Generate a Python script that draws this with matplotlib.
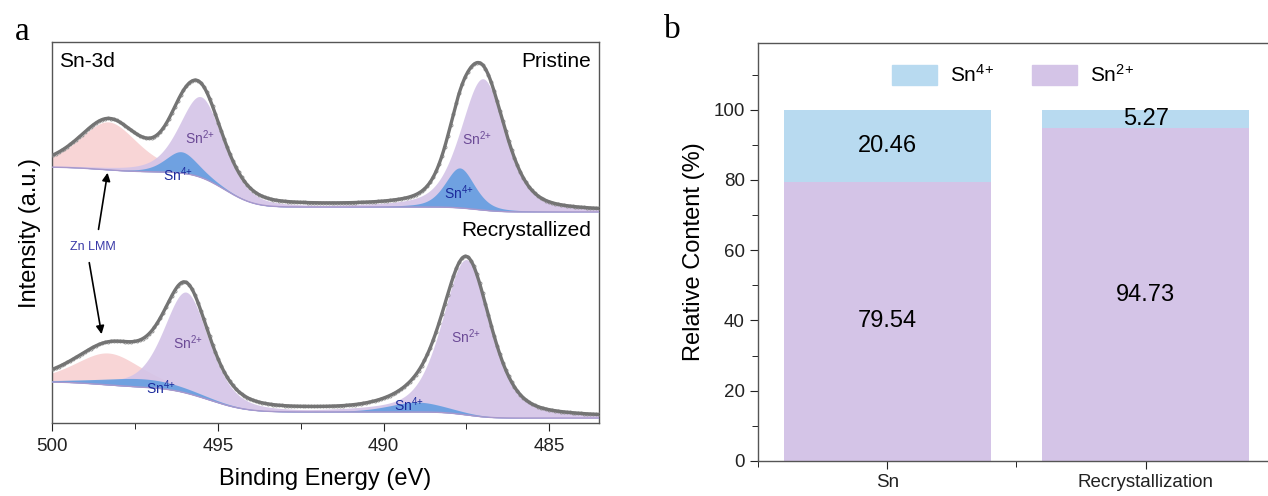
import numpy as np
import matplotlib
matplotlib.use('Agg')
import matplotlib.pyplot as plt
from matplotlib.patches import Patch
from matplotlib.ticker import MultipleLocator
from math import erf

plt.rcParams['font.family'] = ['Liberation Sans', 'DejaVu Sans']
plt.rcParams['mathtext.fontset'] = 'custom'
plt.rcParams['mathtext.rm'] = 'Liberation Sans'
plt.rcParams['mathtext.it'] = 'Liberation Sans:italic'

# ---- panel a: fitted Sn-3d components (center eV, height, fwhm eV) ----
# pristine
pri_offset = 55.4
pri_steps = [(487.2, 1.3, 0.8), (494.8, 9.2, 1.0), (498.5, 1.3, 1.2)]
pri_zn = (498.3, 12.6, 2.1)
pri_sn2 = [(495.5, 21.2, 1.55), (487.0, 34.5, 1.6)]
pri_sn4 = [(496.1, 5.6, 1.15), (487.7, 10.5, 1.05)]

# recrystallized
rec_offset = 1.3
rec_steps = [(487.5, 1.6, 0.8), (495.3, 6.5, 1.3), (498.5, 1.4, 1.2)]
rec_zn = (498.3, 8.4, 2.4)
rec_sn2 = [(495.95, 26.5, 1.6), (487.5, 40.8, 1.72)]
rec_sn4 = [(497.3, 2.2, 3.0), (489.0, 2.6, 2.0)]

# ---- panel b: relative content (%) ----
samples = ['Sn', 'Recrystallization']
sn2_pct = [79.54, 94.73]
sn4_pct = [20.46, 5.27]

c_pink = '#f8d5d6'
c_purple = '#d4c4e7'
c_blue = '#5d9be0'
c_env = '#747474'


def pv(x, c, h, fwhm, eta=0.45):
    s = fwhm / 2.3548
    g = np.exp(-0.5 * ((x - c) / s) ** 2)
    l = 1.0 / (1.0 + ((x - c) / (fwhm / 2)) ** 2)
    return h * ((1 - eta) * g + eta * l)


def background(x, offset, steps):
    b = np.full_like(x, offset)
    for c, s, w in steps:
        b += s * 0.5 * (1 + np.array([erf(v) for v in (x - c) / w]))
    return b


def draw_spectrum(ax, x, offset, steps, zn, sn2, sn4):
    bg = background(x, offset, steps)
    total = bg.copy()
    yz = pv(x, *zn)
    ax.fill_between(x, bg, bg + yz, color=c_pink, lw=0, zorder=1)
    total += yz
    for p in sn2:
        y = pv(x, *p)
        ax.fill_between(x, bg, bg + y, color=c_purple, alpha=0.9, lw=0, zorder=2)
        total += y
    for p in sn4:
        y = pv(x, *p)
        ax.fill_between(x, bg, bg + y, color=c_blue, alpha=0.85, lw=0, zorder=3)
        total += y
    ax.plot(x, bg, color='#a898cc', lw=1.0, zorder=3)
    ax.plot(x[::6], total[::6], 'o', ms=2.2, mfc='none', mec='#888888', mew=0.6, zorder=4)
    ax.plot(x, total, color=c_env, lw=2.4, zorder=5)


fig = plt.figure(figsize=(12.68, 4.96), dpi=100)

ax = fig.add_axes([0.041, 0.1472, 0.4314, 0.7681])
x = np.linspace(500.5, 483.0, 1200)
draw_spectrum(ax, x, pri_offset, pri_steps, pri_zn, pri_sn2, pri_sn4)
draw_spectrum(ax, x, rec_offset, rec_steps, rec_zn, rec_sn2, rec_sn4)

ax.set_xlim(500, 483.5)
ax.set_ylim(0, 100)
ax.set_yticks([])
ax.xaxis.set_major_locator(MultipleLocator(5))
ax.xaxis.set_minor_locator(MultipleLocator(2.5))
ax.tick_params(axis='x', which='major', length=6, pad=5, labelsize=13.5, colors='#222222')
ax.tick_params(axis='x', which='minor', length=4)
for sp in ax.spines.values():
    sp.set_color('#555555')
    sp.set_linewidth(1.0)
ax.set_xlabel('Binding Energy (eV)', fontsize=17, labelpad=9)
ax.set_ylabel('Intensity (a.u.)', fontsize=17, labelpad=8)

ax.text(0.012, 0.975, 'Sn-3d', transform=ax.transAxes, fontsize=15, va='top', ha='left')
ax.text(0.985, 0.975, 'Pristine', transform=ax.transAxes, fontsize=15, va='top', ha='right')
ax.text(0.985, 0.53, 'Recrystallized', transform=ax.transAxes, fontsize=15, va='top', ha='right')

lab2 = dict(color='#6b4a96', fontsize=10, ha='center', va='center', zorder=6)
lab4 = dict(color='#1b2a9c', fontsize=10, ha='center', va='center', zorder=6)
ax.text(495.54, 74.8, 'Sn$^{2\\!+}$', **lab2)
ax.text(496.2, 65.1, 'Sn$^{4\\!+}$', **lab4)
ax.text(487.17, 74.5, 'Sn$^{2\\!+}$', **lab2)
ax.text(487.71, 60.4, 'Sn$^{4\\!+}$', **lab4)
ax.text(495.9, 21.0, 'Sn$^{2\\!+}$', **lab2)
ax.text(496.72, 9.2, 'Sn$^{4\\!+}$', **lab4)
ax.text(487.5, 22.6, 'Sn$^{2\\!+}$', **lab2)
ax.text(489.22, 4.7, 'Sn$^{4\\!+}$', **lab4)

ax.text(498.77, 46.2, 'Zn LMM', color='#3a3aa8', fontsize=9, ha='center', va='center', zorder=6)
arr = dict(arrowstyle='-|>', color='k', lw=1.2, mutation_scale=12)
ax.annotate('', xy=(498.31, 66.4), xytext=(498.61, 50.1), arrowprops=arr, zorder=6)
ax.annotate('', xy=(498.49, 22.6), xytext=(498.89, 42.8), arrowprops=arr, zorder=6)

# ---- panel b ----
bx = fig.add_axes([0.5978, 0.0706, 0.4077, 0.8427])
pos = np.arange(1, len(samples) + 1)
b2 = bx.bar(pos, sn2_pct, width=0.8, color=c_purple)
b4 = bx.bar(pos, sn4_pct, width=0.8, bottom=sn2_pct, color='#b8daf0')
bx.bar_label(b2, labels=['%.2f' % v for v in sn2_pct], label_type='center', fontsize=17)
bx.bar_label(b4, labels=['%.2f' % v for v in sn4_pct], label_type='center', fontsize=17)

bx.set_xlim(0.5, 2.5)
bx.set_ylim(0, 119)
bx.set_xticks(pos)
bx.set_xticklabels(samples)
bx.xaxis.set_minor_locator(MultipleLocator(0.5))
bx.yaxis.set_major_locator(MultipleLocator(20))
bx.yaxis.set_minor_locator(MultipleLocator(10))
bx.set_yticks(np.arange(0, 101, 20))
bx.tick_params(which='major', length=6, labelsize=13.5, colors='#222222')
bx.tick_params(which='minor', length=4)
bx.spines['right'].set_visible(False)
for sp in ['left', 'top', 'bottom']:
    bx.spines[sp].set_color('#555555')
    bx.spines[sp].set_linewidth(1.0)
bx.set_ylabel('Relative Content (%)', fontsize=17, labelpad=6)

handles = [Patch(color='#b8daf0', label='Sn$^{4\\!+}$'), Patch(color=c_purple, label='Sn$^{2\\!+}$')]
bx.legend(handles=handles, loc='center', bbox_to_anchor=(0.493, 0.923), ncol=2, frameon=False,
          fontsize=15, handlelength=2.2, handleheight=1.1, handletextpad=0.6, columnspacing=1.8)

fig.text(0.012, 0.935, 'a', fontsize=24, family='Liberation Serif', va='center')
fig.text(0.524, 0.94, 'b', fontsize=24, family='Liberation Serif', va='center')

fig.savefig('out.png', dpi=100)
